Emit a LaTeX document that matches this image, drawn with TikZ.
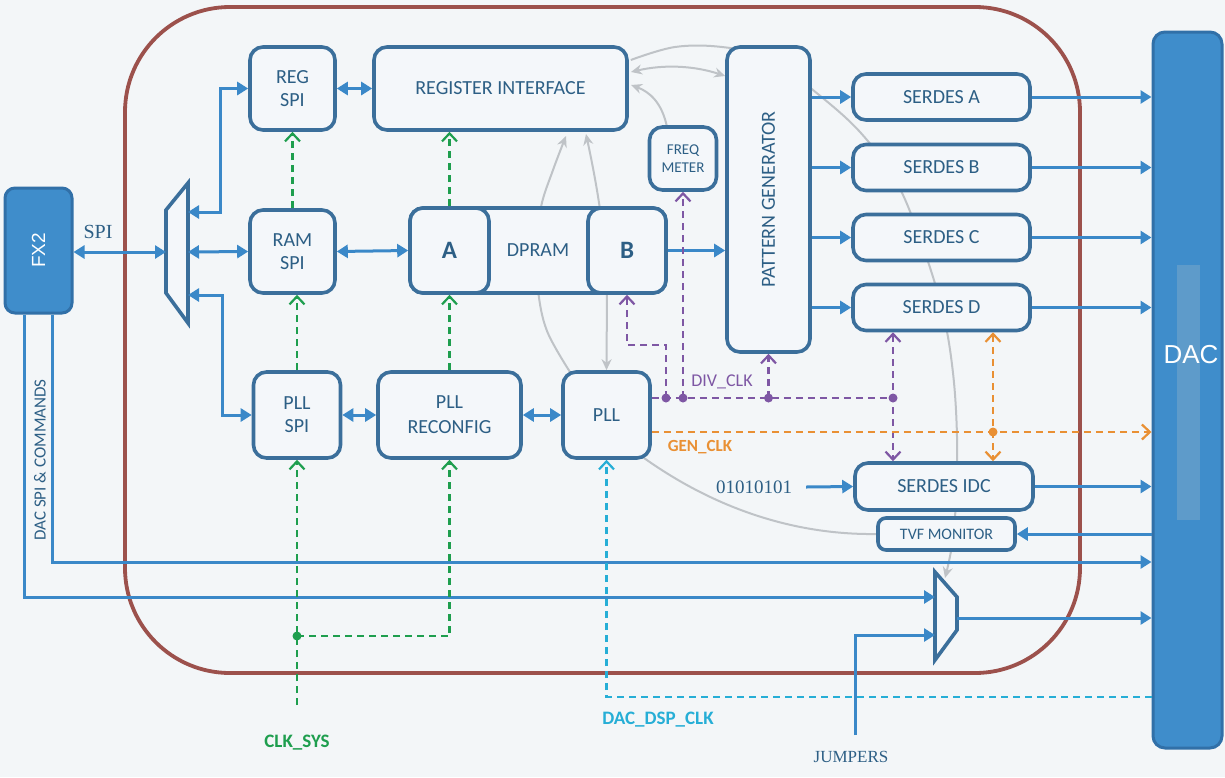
\documentclass[tikz,border=0pt]{standalone}
\usepackage{fontspec}
\setmainfont{Carlito}
\newfontfamily\seriff{Liberation Serif}
\newfontfamily\arialf{Liberation Sans}
\usetikzlibrary{arrows.meta}
\definecolor{bgc}{HTML}{F3F6F8}
\definecolor{boxfill}{HTML}{F4F7FA}
\definecolor{boxc}{HTML}{3B6F9B}
\definecolor{connc}{HTML}{3A88C8}
\definecolor{txtc}{HTML}{2D5F85}
\definecolor{bluefill}{HTML}{3F8DCB}
\definecolor{blueedge}{HTML}{3170A8}
\definecolor{stripc}{HTML}{5E9BCA}
\definecolor{brownc}{HTML}{9C514C}
\definecolor{greenc}{HTML}{1E9E4E}
\definecolor{purplec}{HTML}{7E57A4}
\definecolor{orangec}{HTML}{E99034}
\definecolor{cyanc}{HTML}{26AED6}
\definecolor{grayc}{HTML}{BFC3C7}
\pgfdeclarelayer{back}
\pgfdeclarelayer{bgl}
\pgfsetlayers{back,bgl,main}
\tikzset{
  blk/.style={draw=boxc, line width=3.6pt, rounded corners=13pt, fill=boxfill, text=txtc,
    font=\fontsize{20}{23}\selectfont, align=center, inner sep=0pt},
  conn/.style={draw=connc, line width=3pt, -{Triangle[length=11pt,width=13pt]}},
  dconn/.style={draw=connc, line width=3pt, {Triangle[length=11pt,width=13pt]}-{Triangle[length=11pt,width=13pt]}},
  dashb/.style={line width=2.2pt, dash pattern=on 7pt off 5pt},
  barb/.style={-{Straight Barb[length=8pt,width=15pt]}},
  dbarb/.style={{Straight Barb[length=8pt,width=15pt]}-{Straight Barb[length=8pt,width=15pt]}},
  gd/.style={dashb, draw=greenc},
  pd/.style={dashb, draw=purplec},
  od/.style={dashb, draw=orangec},
  cd/.style={dashb, draw=cyanc},
  gcurve/.style={draw=grayc, line width=2pt},
  gtip/.style={-{Stealth[length=11pt,width=10pt]}},
  gdtip/.style={{Stealth[length=11pt,width=10pt]}-{Stealth[length=11pt,width=10pt]}},
  lbl/.style={inner sep=0pt},
  muxs/.style={draw=boxc, line width=3.6pt, fill=boxfill, line join=miter},
}
\begin{document}
\begin{tikzpicture}[x=1pt,y=-1pt]
\begin{pgfonlayer}{back}
\fill[bgc] (0,0) rectangle (1225,777);
\draw[brownc, line width=3.8pt, rounded corners=105pt] (125,7) rectangle (1080,673);
\end{pgfonlayer}
\useasboundingbox (0,0) rectangle (1225,777);

% blocks
\node[blk, minimum width=85pt, minimum height=83pt] (regspi) at (292.5,88.5) {REG\\SPI};
\node[blk, minimum width=85pt, minimum height=83pt] (ramspi) at (292.5,251.5) {RAM\\SPI};
\node[blk, minimum width=87pt, minimum height=86pt] (pllspi) at (297,415) {PLL\\SPI};
\node[blk, minimum width=253pt, minimum height=83pt] (regif) at (500.5,88.5) {REGISTER INTERFACE};
\node[blk, minimum width=256pt, minimum height=85pt] (dpram) at (538,250.5) {DPRAM};
\node[blk, minimum width=79pt, minimum height=85pt, font=\bfseries\fontsize{25}{28}\selectfont] (ablk) at (449.5,250.5) {A};
\node[blk, minimum width=78pt, minimum height=85pt, font=\bfseries\fontsize{25}{28}\selectfont] (bblk) at (627,250.5) {B};
\node[blk, minimum width=67pt, minimum height=63pt, font=\fontsize{15}{18}\selectfont] (freq) at (683,158.5) {FREQ\\METER};
\node[blk, minimum width=83pt, minimum height=305pt] (pg) at (768.5,199.5) {};
\node[lbl, rotate=90, text=txtc, font=\fontsize{20}{23}\selectfont] (pgt) at (pg.center) {PATTERN GENERATOR};
\node[blk, minimum width=143pt, minimum height=86pt, font=\fontsize{20}{25}\selectfont] (pllrc) at (449.5,415) {PLL\\RECONFIG};
\node[blk, minimum width=87pt, minimum height=86pt] (pll) at (606.5,415) {PLL};
\node[blk, minimum width=177pt, minimum height=46pt] (sa) at (941.5,97) {SERDES A};
\node[blk, minimum width=177pt, minimum height=46pt] (sb) at (941.5,167.5) {SERDES B};
\node[blk, minimum width=177pt, minimum height=46pt] (sc) at (941.5,237.5) {SERDES C};
\node[blk, minimum width=177pt, minimum height=46pt] (sd) at (941.5,307.5) {SERDES D};
\node[blk, minimum width=178pt, minimum height=47pt] (sidc) at (944,486.5) {SERDES IDC};
\node[blk, minimum width=137pt, minimum height=32pt, rounded corners=8pt, font=\fontsize{16}{18}\selectfont] (tvf) at (946.5,534) {TVF MONITOR};

% FX2 and DAC
\node[draw=blueedge, fill=bluefill, line width=3pt, rounded corners=10pt, minimum width=67pt, minimum height=125pt] (fx2) at (38.5,250.5) {};
\node[lbl, rotate=90, text=white, font=\arialf\fontsize{19}{22}\selectfont] (fx2t) at (fx2.center) {FX2};
\node[draw=blueedge, fill=bluefill, line width=3pt, rounded corners=12pt, minimum width=69pt, minimum height=716pt] (dac) at (1187.5,390) {};
\fill[stripc] (1177,265) rectangle (1200,520);
\node[lbl, text=white, font=\arialf\fontsize{26}{28}\selectfont] (dact) at (1191,355) {DAC};

% muxes
\draw[muxs] (188,183) -- (188,323) -- (166,293) -- (166,210) -- cycle;
\coordinate (mlin) at (166,252);
\coordinate (mlo1) at (188,212);
\coordinate (mlo2) at (188,252);
\coordinate (mlo3) at (188,295);
\draw[muxs] (935,572) -- (957,597) -- (957,630) -- (935,660) -- cycle;
\coordinate (mri1) at (935,597);
\coordinate (mri2) at (935,635);
\coordinate (mrtop) at (945,578);
\coordinate (mrout) at (957,618);

% gray curves
\begin{pgfonlayer}{bgl}
\draw[gcurve, gtip] plot[smooth, tension=0.6] coordinates {([xshift=2pt]regif.east |- 0,60) (675,47) (722,47) (770,58) (813,90) (860,132) (897,183) (923,247) (943,313) (953,373) (957,437) (956,500) (952,545) (mrtop)};
\draw[gcurve, gdtip] (631,72) .. controls (665,64) and (695,66) .. (pg.west |- 0,76);
\draw[gcurve, gtip] (667,127) .. controls (662,103) and (650,92) .. (631,85);
\draw[gcurve, gtip] plot[smooth, tension=0.6] coordinates {(570,372) (547,331) (538,290) (537,250) (541,207) (553,170) (566,136)};
\draw[gcurve, gdtip] (pll.north) -- (607,290) .. controls (606,240) and (598,190) .. (586,134);
\draw[gcurve] (644,458) .. controls (720,512) and (800,535) .. (tvf.west);
\end{pgfonlayer}

% blue connectors
\node[lbl, text=txtc, font=\seriff\fontsize{20}{22}\selectfont] (spil) at (98,232) {SPI};
\draw[dconn] (fx2.east |- mlin) -- (mlin);
\draw[dconn] (mlo1) -- (220,212) -- (220,88.5) -- (regspi.west);
\draw[dconn] (mlo2) -- (ramspi.west);
\draw[dconn] (mlo3) -- (222,295) -- (222,415) -- (pllspi.west);
\draw[dconn] (regspi.east) -- (regif.west);
\draw[dconn] (ramspi.east) -- (ablk.west);
\draw[dconn] (pllspi.east) -- (pllrc.west);
\draw[dconn] (pllrc.east) -- (pll.west);
\draw[conn] (bblk.east) -- (bblk.east -| pg.west);
\foreach \s in {sa,sb,sc,sd}{
  \draw[conn] (pg.east |- \s.west) -- (\s.west);
  \draw[conn] (\s.east) -- (\s.east -| dac.west);
}
\draw[conn] (sidc.east) -- (sidc.east -| dac.west);
\draw[conn] (dac.west |- tvf.east) -- (tvf.east);
\node[lbl, text=txtc, font=\seriff\fontsize{19}{21}\selectfont] (bits) at (754,487) {01010101};
\draw[conn] ([xshift=14pt]bits.east) -- (sidc.west);
\draw[conn] (fx2.south -| 24,0) -- (24,597) -- (mri1);
\draw[conn] (fx2.south -| 52,0) -- (52,562) -- (dac.west |- 0,562);
\node[lbl, rotate=90, text=txtc, font=\fontsize{17}{19}\selectfont] (dacspi) at (40,460) {DAC SPI \& COMMANDS};
\draw[conn] (mrout) -- (mrout -| dac.west);
\node[lbl, text=txtc, font=\seriff\fontsize{17}{19}\selectfont] (jmp) at (851,757) {JUMPERS};
\coordinate (jbot) at (855,735);
\draw[conn] (jbot) -- (855,635) -- (mri2);

% green
\draw[gd, barb] (ramspi.north) -- (regspi.south);
\draw[gd, barb] (pllspi.north) -- (pllspi.north |- ramspi.south);
\draw[gd, barb] (pllrc.north) -- (pllrc.north |- ablk.south);
\draw[gd, barb] (ablk.north) -- (ablk.north |- regif.south);
\coordinate (csbot) at (297,705);
\coordinate (csj) at (297,636);
\draw[gd, barb] (csbot) -- (pllspi.south);
\draw[gd, barb] (csj) -- (pllrc.south |- csj) -- (pllrc.south);
\fill[greenc] (csj) circle (4.5pt);
\node[lbl, text=greenc, font=\bfseries\fontsize{19}{21}\selectfont] (clks) at (297,743) {CLK\_SYS};

% purple
\coordinate (dv0) at (pll.east |- 0,398);
\coordinate (dv1) at (666,398);
\coordinate (dv2) at (683,398);
\coordinate (dv3) at (768.5,398);
\coordinate (dv4) at (893,398);
\draw[pd] (dv0) -- (dv4);
\draw[pd, barb] (dv1) -- (666,345) -- (627,345) -- (bblk.south);
\draw[pd, barb] (dv2) -- (freq.south);
\draw[pd, barb] (dv3) -- (pg.south);
\draw[pd, dbarb] (sd.south -| dv4) -- (sidc.north -| dv4);
\foreach \p in {dv1,dv2,dv3,dv4} \fill[purplec] (\p) circle (4.5pt);
\node[lbl, text=purplec, font=\fontsize{18}{20}\selectfont] (divl) at (722,382) {DIV\_CLK};

% orange
\coordinate (gc0) at (pll.east |- 0,432);
\coordinate (gcj) at (993,432);
\draw[od, barb] (gc0) -- (dac.west |- gc0);
\draw[od, dbarb] (sd.south -| gcj) -- (sidc.north -| gcj);
\fill[orangec] (gcj) circle (4.5pt);
\node[lbl, text=orangec, font=\bfseries\fontsize{17}{19}\selectfont] (genl) at (700,447) {GEN\_CLK};

% cyan
\draw[cd, barb] (dac.west |- 0,697) -- (pll.south |- 0,697) -- (pll.south);
\node[lbl, text=cyanc, font=\bfseries\fontsize{19}{21}\selectfont] (dspl) at (658,720) {DAC\_DSP\_CLK};
\end{tikzpicture}
\end{document}
